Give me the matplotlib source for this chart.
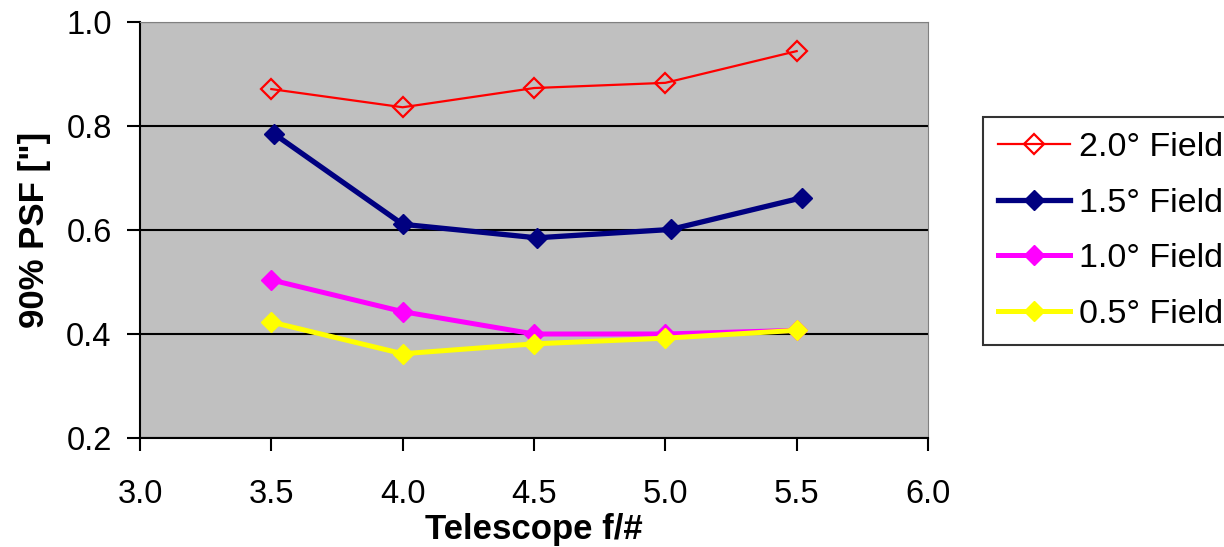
import matplotlib
matplotlib.use("Agg")
import matplotlib.pyplot as plt
from matplotlib.ticker import MultipleLocator

plt.rcParams['font.family'] = ['Liberation Sans', 'DejaVu Sans']

# f-numbers
f_num = [3.5, 4.0, 4.5, 5.0, 5.5]
f_num_15 = [3.51, 4.0, 4.51, 5.02, 5.52]

psf_20 = [0.871, 0.836, 0.873, 0.883, 0.944]
psf_15 = [0.785, 0.611, 0.585, 0.601, 0.662]
psf_10 = [0.504, 0.443, 0.400, 0.400, 0.407]
psf_05 = [0.423, 0.362, 0.381, 0.392, 0.407]

labels = ["2.0° Field", "1.5° Field", "1.0° Field", "0.5° Field"]

fig = plt.figure(figsize=(12.24, 5.47), dpi=100)
ax = fig.add_axes([140 / 1224, 1 - 438 / 547, 788 / 1224, 416 / 547])
ax.set_facecolor('#C0C0C0')

ax.plot(f_num, psf_20, '-', color='#FF0000', lw=1.6, marker='D', ms=10,
        mfc='none', mec='#FF0000', mew=1.6, label=labels[0])
ax.plot(f_num_15, psf_15, '-', color='#000080', lw=3.8, marker='D', ms=10,
        mfc='#000080', mec='#000080', label=labels[1])
ax.plot(f_num, psf_10, '-', color='#FF00FF', lw=3.6, marker='D', ms=10,
        mfc='#FF00FF', mec='#FF00FF', label=labels[2])
ax.plot(f_num, psf_05, '-', color='#FFFF00', lw=3.6, marker='D', ms=10,
        mfc='#FFFF00', mec='#FFFF00', label=labels[3])

ax.set_xlim(3.0, 6.0)
ax.set_ylim(0.2, 1.0)
ax.xaxis.set_major_locator(MultipleLocator(0.5))
ax.yaxis.set_major_locator(MultipleLocator(0.2))
ax.xaxis.set_major_formatter(lambda v, p: f"{v:.1f}")
ax.yaxis.set_major_formatter(lambda v, p: f"{v:.1f}")
ax.yaxis.grid(True, color='black', lw=1.5)
ax.set_axisbelow(True)

ax.spines['left'].set_color('black')
ax.spines['bottom'].set_color('black')
ax.spines['left'].set_linewidth(1.5)
ax.spines['bottom'].set_linewidth(1.5)
ax.spines['top'].set_color('#808080')
ax.spines['right'].set_color('#808080')
ax.tick_params(axis='both', direction='out', length=9.4, width=1.5,
               labelsize=23.5, colors='black')
ax.tick_params(axis='y', pad=11)
ax.tick_params(axis='x', pad=20)

ax.set_xlabel("Telescope f/#", fontsize=25, fontweight='bold', labelpad=2)
ax.set_ylabel('90% PSF ["]', fontsize=25, fontweight='bold', labelpad=11)

leg = fig.legend(loc='upper left', bbox_to_anchor=(983 / 1224, 1 - 117 / 547),
                 fontsize=24.5, frameon=True, fancybox=False, edgecolor='black',
                 handlelength=2.1, handletextpad=0.27, labelspacing=0.72,
                 borderpad=0.45, borderaxespad=0)
leg.get_frame().set_linewidth(1.5)

fig.savefig('out.png', dpi=100)
plt.close(fig)
